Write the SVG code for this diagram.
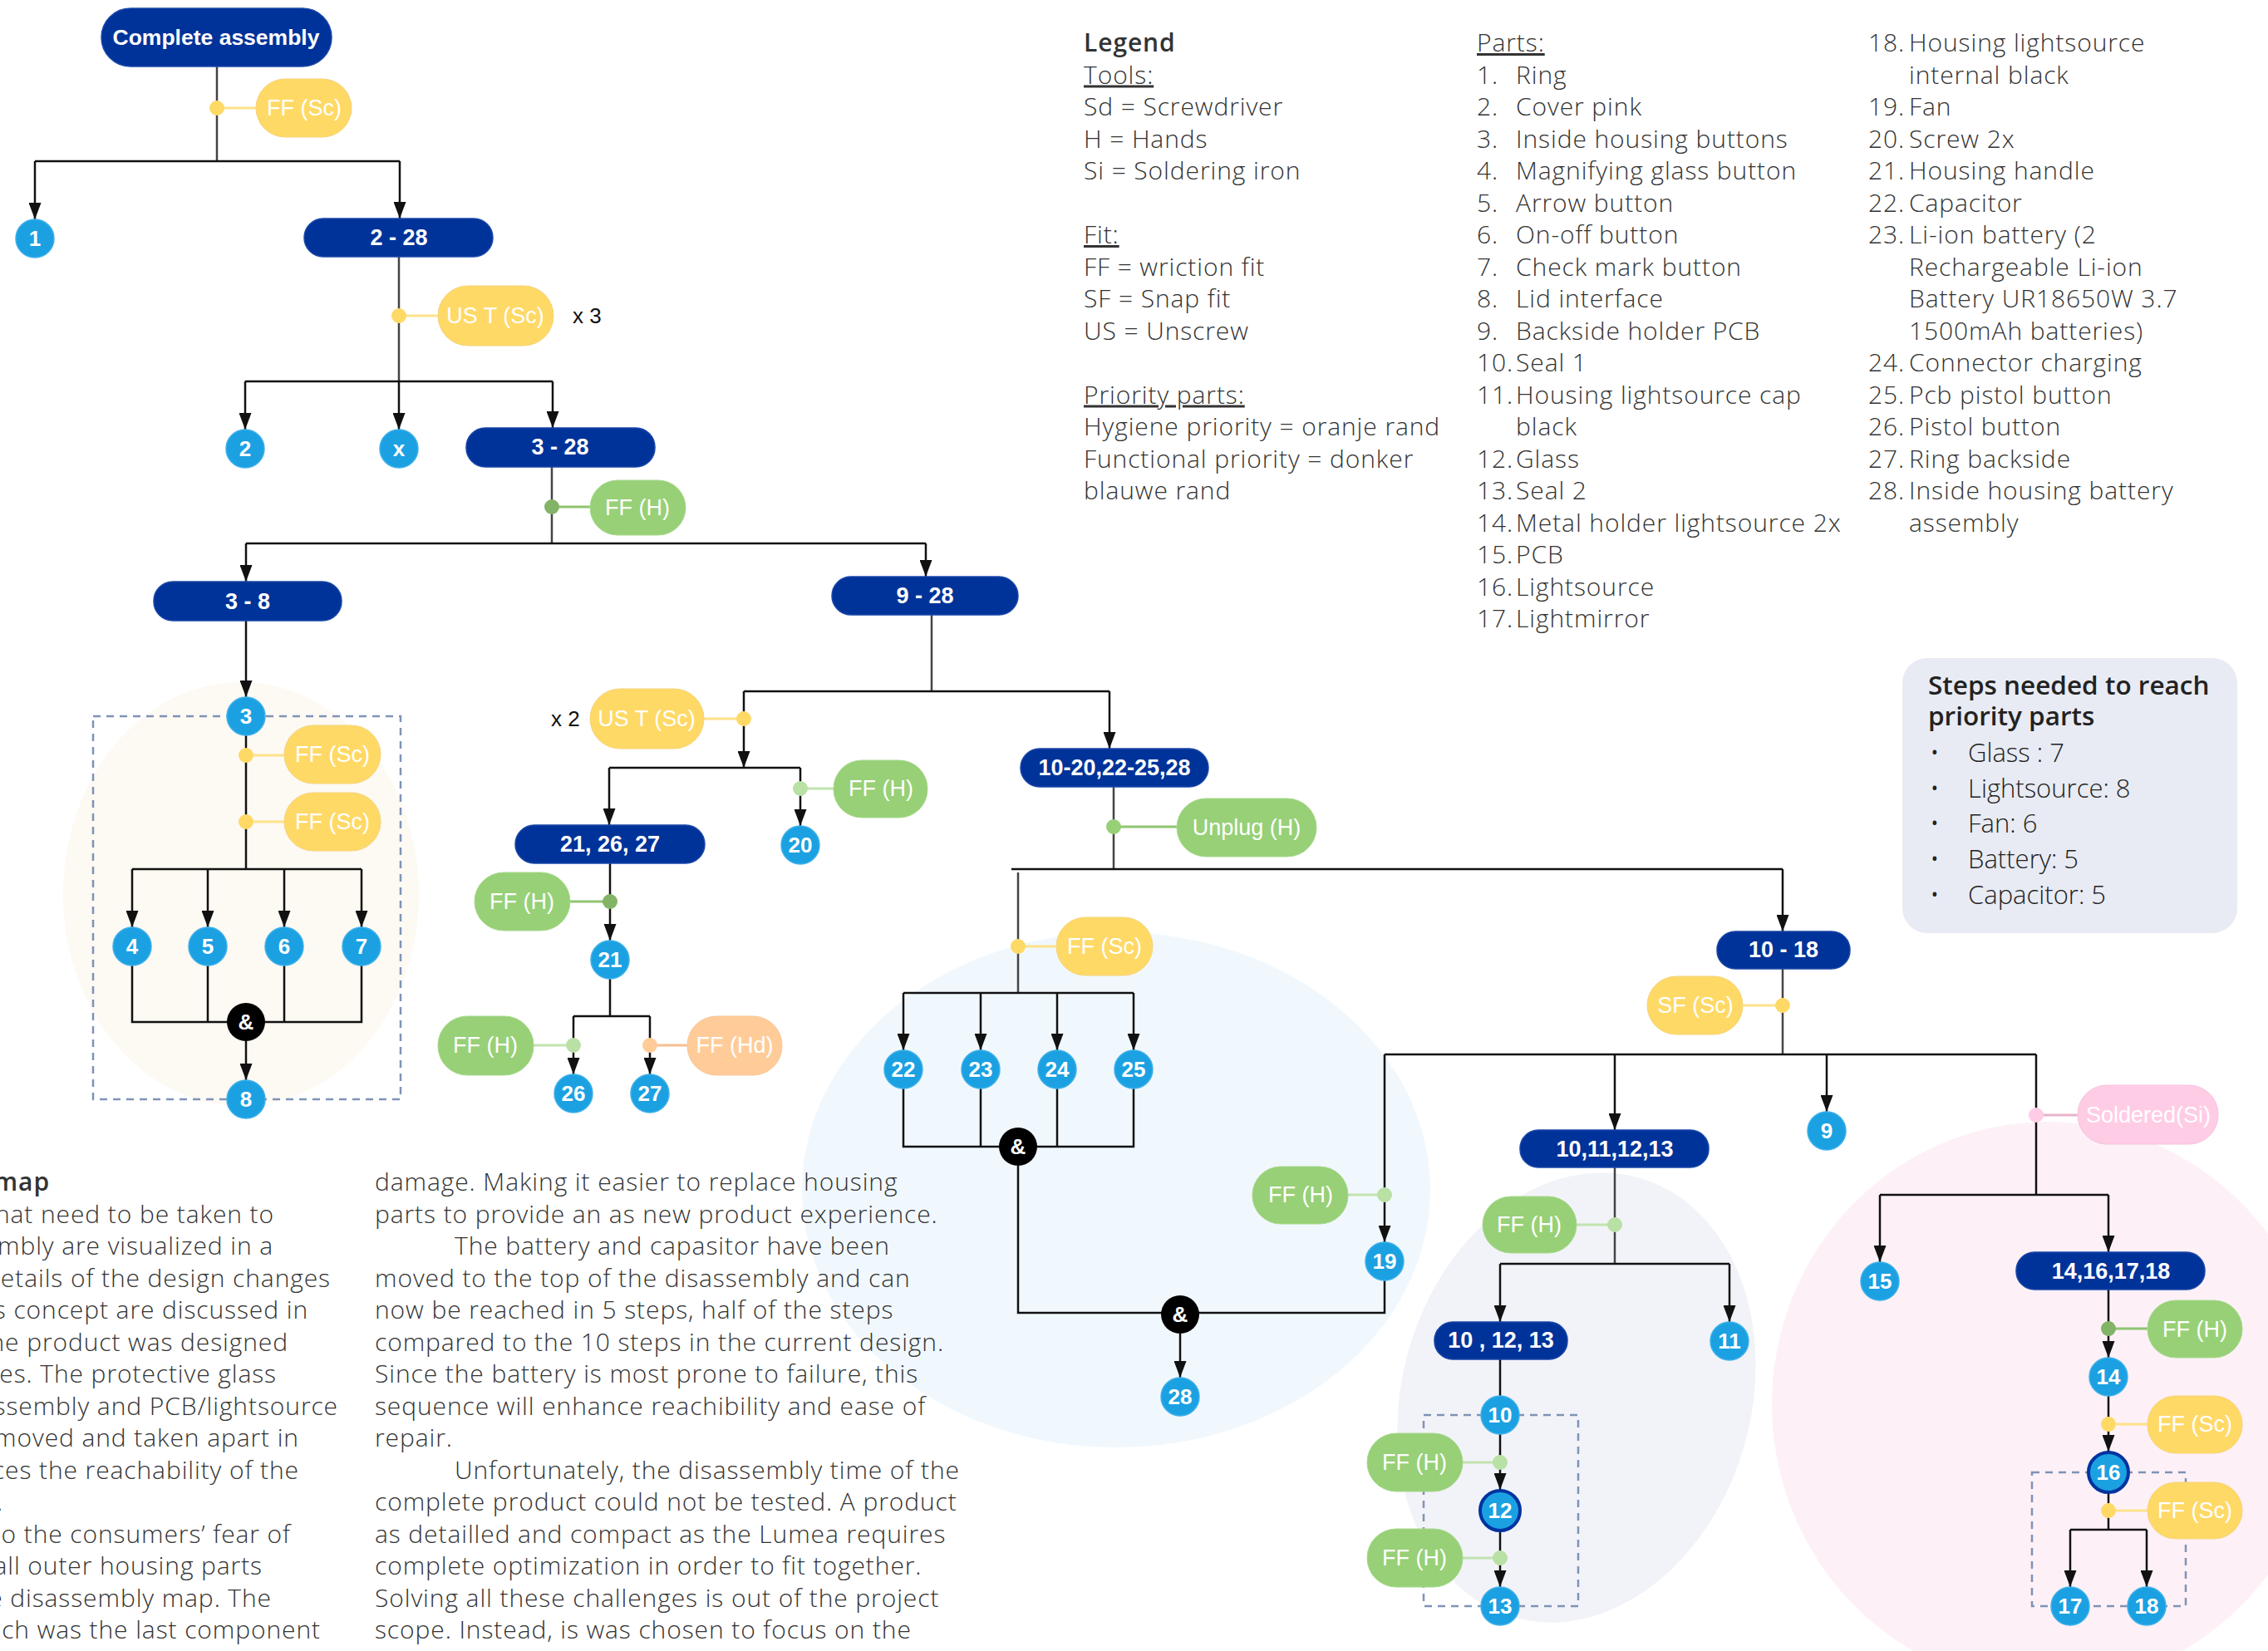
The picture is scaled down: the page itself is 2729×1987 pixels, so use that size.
<svg xmlns="http://www.w3.org/2000/svg" width="2729" height="1987" viewBox="0 0 2729 1987">
<defs>
<style>
.bg{stroke:none}
.box{fill:#003399;stroke:#1a47a8;stroke-width:1.5}
.btx{font-family:"Liberation Sans",Arial,sans-serif;font-weight:bold;font-size:27px;fill:#fff;text-anchor:middle;dominant-baseline:central}
.num{fill:#1ba1e2;stroke:#3db0ea;stroke-width:1.5}
.pri{fill:#1ba1e2;stroke:#0033a0;stroke-width:4}
.amp{fill:#000}
.ntx{font-family:"Liberation Sans",Arial,sans-serif;font-weight:bold;font-size:26px;fill:#fff;text-anchor:middle;dominant-baseline:central}
.ptx{font-family:"Liberation Sans",Arial,sans-serif;font-size:27px;fill:#fff;text-anchor:middle;dominant-baseline:central}
.yel{fill:#ffd966;stroke:#f5d37a;stroke-width:1}
.grn{fill:#97d077;stroke:#a8d88c;stroke-width:1}
.org{fill:#ffcc99;stroke:#f7c898;stroke-width:1}
.pnk{fill:#ffcce6;stroke:#f4c3dc;stroke-width:1}
.ln{fill:none;stroke:#111;stroke-width:2.5}
.tr{fill:none;stroke:#444;stroke-width:2.5}
.ar{fill:none;stroke:#111;stroke-width:2.5;marker-end:url(#ah)}
.dy{fill:#ffd966}
.dg{fill:#82b366}
.dl{fill:#b9e0a5}
.dm{fill:#97d077}
.do{fill:#ffcc99}
.dp{fill:#ffcce6}
.ly{stroke:#ffe28a;stroke-width:3}
.lg{stroke:#8fc46f;stroke-width:3}
.ll{stroke:#c2e3b0;stroke-width:3}
.lo{stroke:#f7bf8f;stroke-width:3}
.lp{stroke:#e8b3cc;stroke-width:3}
.dash{fill:none;stroke:#7f93b8;stroke-width:2.5;stroke-dasharray:9 7}
.t{font-family:"Open Sans","Noto Sans",sans-serif;font-weight:300;font-size:30px;letter-spacing:0.9px;fill:#333}
.u{text-decoration:underline}
.sb{font-family:"Open Sans","Noto Sans",sans-serif;font-weight:600;font-size:31.5px;fill:#222}
.st{font-family:"Open Sans","Noto Sans",sans-serif;font-weight:300;font-size:31px;fill:#222}
.xl{font-family:"Liberation Sans",Arial,sans-serif;font-size:26px;fill:#111;dominant-baseline:central}
</style>
<marker id="ah" markerUnits="userSpaceOnUse" markerWidth="20" markerHeight="15" refX="20" refY="7.5" orient="auto" viewBox="0 0 20 15">
<path d="M0,0 L20,7.5 L0,15 z" fill="#111"/>
</marker>
</defs>
<rect width="2729" height="1987" fill="#fff"/>

<g id="backgrounds">
<ellipse class="bg" cx="290" cy="1076" rx="214" ry="255" fill="#fdf9f3"/>
<ellipse class="bg" cx="1343" cy="1432" rx="378" ry="310" fill="#f1f8fd"/>
<ellipse class="bg" cx="1897" cy="1682" rx="210" ry="275" fill="#f2f3f8" transform="rotate(16 1897 1682)"/>
<ellipse class="bg" cx="2464" cy="1690" rx="332" ry="340" fill="#fdf1f7"/>
<rect class="bg" x="2289" y="792" width="403" height="331" rx="30" fill="#e8ebf3"/>
</g>

<g id="groups">
<rect class="dash" x="112" y="862" width="370" height="461"/>
<rect class="dash" x="1713" y="1703" width="186" height="230"/>
<rect class="dash" x="2445" y="1772" width="185" height="161"/>
</g>

<g id="connectors">
<path class="tr" d="M261,80 V194"/>
<path class="ln" d="M42,194 H481"/>
<path class="ar" d="M42,194 V264"/>
<path class="ar" d="M481,194 V263"/>
<path class="tr" d="M480,309 V459"/>
<path class="ln" d="M295,459 H665"/>
<path class="ar" d="M295,459 V517"/>
<path class="ar" d="M480,459 V517"/>
<path class="ar" d="M665,459 V515"/>
<path class="tr" d="M664,562 V654"/>
<path class="ln" d="M296,654 H1114"/>
<path class="ar" d="M296,654 V700"/>
<path class="ar" d="M1114,654 V694"/>
<path class="ar" d="M296,747 V839"/>
<path class="ln" d="M296,885 V1046"/>
<path class="ln" d="M159,1046 H435"/>
<path class="ar" d="M159,1046 V1116"/>
<path class="ar" d="M250,1046 V1116"/>
<path class="ar" d="M342,1046 V1116"/>
<path class="ar" d="M435,1046 V1116"/>
<path class="ln" d="M159,1162 V1230 H435 V1162 M250,1162 V1230 M342,1162 V1230"/>
<path class="ar" d="M296,1253 V1300"/>
<path class="tr" d="M1121,740 V832"/>
<path class="ln" d="M895,832 H1335"/>
<path class="ar" d="M895,832 V924"/>
<path class="ln" d="M733,924 H963"/>
<path class="ar" d="M733,924 V993"/>
<path class="ar" d="M963,924 V994"/>
<path class="ar" d="M734,1039 V1132"/>
<path class="ln" d="M734,1178 V1223"/>
<path class="ln" d="M690,1223 H782"/>
<path class="ar" d="M690,1223 V1293"/>
<path class="ar" d="M782,1223 V1293"/>
<path class="ar" d="M1335,832 V901"/>
<path class="tr" d="M1340,947 V1046"/>
<path class="ln" d="M1217,1046 H2145"/>
<path class="ar" d="M2145,1046 V1121"/>
<path class="tr" d="M1225,1050 V1195"/>
<path class="ln" d="M1087,1195 H1364"/>
<path class="ar" d="M1087,1195 V1264"/>
<path class="ar" d="M1180,1195 V1264"/>
<path class="ar" d="M1272,1195 V1264"/>
<path class="ar" d="M1364,1195 V1264"/>
<path class="ln" d="M1087,1310 V1380 H1364 V1310 M1180,1310 V1380 M1272,1310 V1380"/>
<path class="ln" d="M1225,1403 V1580 H1666 V1541"/>
<path class="ar" d="M1420,1605 V1658"/>
<path class="tr" d="M2145,1166 V1269"/>
<path class="ln" d="M1666,1269 H2450"/>
<path class="ar" d="M1666,1269 V1495"/>
<path class="ar" d="M1943,1269 V1360"/>
<path class="ar" d="M2198,1269 V1338"/>
<path class="ln" d="M2450,1269 V1438"/>
<path class="ln" d="M2262,1438 H2537"/>
<path class="ar" d="M2262,1438 V1519"/>
<path class="ar" d="M2537,1438 V1507"/>
<path class="tr" d="M1943,1405 V1521"/>
<path class="ln" d="M1805,1521 H2081"/>
<path class="ar" d="M1805,1521 V1591"/>
<path class="ar" d="M2081,1521 V1591"/>
<path class="ln" d="M1805,1636 V1680"/>
<path class="ar" d="M1805,1726 V1793"/>
<path class="ar" d="M1805,1843 V1910"/>
<path class="ar" d="M2537,1552 V1634"/>
<path class="ar" d="M2537,1680 V1747"/>
<path class="ln" d="M2537,1797 V1841"/>
<path class="ln" d="M2491,1841 H2583"/>
<path class="ar" d="M2491,1841 V1910"/>
<path class="ar" d="M2583,1841 V1910"/>
<!-- tool link lines -->
<path class="ly" d="M261,130 H308"/>
<path class="ly" d="M480,380 H527"/>
<path class="lg" d="M664,610 H710"/>
<path class="ly" d="M296,909 H342"/>
<path class="ly" d="M296,989 H342"/>
<path class="ly" d="M847,865 H895"/>
<path class="ll" d="M963,949 H1003"/>
<path class="lg" d="M686,1085 H734"/>
<path class="ll" d="M642,1258 H690"/>
<path class="lo" d="M782,1258 H827"/>
<path class="lg" d="M1340,995 H1416"/>
<path class="ly" d="M1225,1139 H1271"/>
<path class="ll" d="M1622,1438 H1666"/>
<path class="ly" d="M2097,1210 H2145"/>
<path class="lp" d="M2450,1342 H2500"/>
<path class="ll" d="M1897,1474 H1943"/>
<path class="ll" d="M1760,1760 H1805"/>
<path class="ll" d="M1760,1875 H1805"/>
<path class="lg" d="M2537,1599 H2584"/>
<path class="ly" d="M2537,1714 H2584"/>
<path class="ly" d="M2537,1818 H2584"/>
<!-- dots -->
<circle class="dy" cx="261" cy="130" r="9"/>
<circle class="dy" cx="480" cy="380" r="9"/>
<circle class="dg" cx="664" cy="610" r="9"/>
<circle class="dy" cx="296" cy="909" r="9"/>
<circle class="dy" cx="296" cy="989" r="9"/>
<circle class="dy" cx="895" cy="865" r="9"/>
<circle class="dl" cx="963" cy="949" r="9"/>
<circle class="dg" cx="734" cy="1085" r="9"/>
<circle class="dl" cx="690" cy="1258" r="9"/>
<circle class="do" cx="782" cy="1258" r="9"/>
<circle class="dm" cx="1340" cy="995" r="9"/>
<circle class="dy" cx="1225" cy="1139" r="9"/>
<circle class="dl" cx="1666" cy="1438" r="9"/>
<circle class="dy" cx="2145" cy="1210" r="9"/>
<circle class="dp" cx="2450" cy="1342" r="9"/>
<circle class="dl" cx="1943" cy="1474" r="9"/>
<circle class="dl" cx="1805" cy="1760" r="9"/>
<circle class="dl" cx="1805" cy="1875" r="9"/>
<circle class="dg" cx="2537" cy="1599" r="9"/>
<circle class="dy" cx="2537" cy="1714" r="9"/>
<circle class="dy" cx="2537" cy="1818" r="9"/>
</g>

<g id="assemblies">
<g id="n-complete"><rect class="box" x="122" y="10" width="277" height="70" rx="35"/><text class="btx" x="260" y="45" style="font-size:26.5px">Complete assembly</text></g>
<g id="n-2-28"><rect class="box" x="366" y="263" width="227" height="46" rx="23"/><text class="btx" x="480" y="286">2 - 28</text></g>
<g id="n-3-28"><rect class="box" x="561" y="515" width="227" height="47" rx="23"/><text class="btx" x="674" y="538">3 - 28</text></g>
<g id="n-3-8"><rect class="box" x="185" y="700" width="226" height="47" rx="23"/><text class="btx" x="298" y="724">3 - 8</text></g>
<g id="n-9-28"><rect class="box" x="1001" y="694" width="224" height="46" rx="23"/><text class="btx" x="1113" y="717">9 - 28</text></g>
<g id="n-21-26-27"><rect class="box" x="620" y="993" width="228" height="46" rx="23"/><text class="btx" x="734" y="1016">21, 26, 27</text></g>
<g id="n-10-20"><rect class="box" x="1228" y="901" width="226" height="46" rx="23"/><text class="btx" x="1341" y="924">10-20,22-25,28</text></g>
<g id="n-10-18"><rect class="box" x="2066" y="1121" width="160" height="45" rx="22"/><text class="btx" x="2146" y="1143">10 - 18</text></g>
<g id="n-10-13"><rect class="box" x="1829" y="1360" width="227" height="45" rx="22"/><text class="btx" x="1943" y="1383">10,11,12,13</text></g>
<g id="n-10-12-13"><rect class="box" x="1726" y="1591" width="160" height="45" rx="22"/><text class="btx" x="1806" y="1613">10 , 12, 13</text></g>
<g id="n-14-18"><rect class="box" x="2426" y="1507" width="227" height="45" rx="22"/><text class="btx" x="2540" y="1530">14,16,17,18</text></g>
</g>

<g id="parts">
<g id="p1"><circle class="num" cx="42" cy="287" r="23"/><text class="ntx" x="42" y="287">1</text></g>
<g id="p2"><circle class="num" cx="295" cy="540" r="23"/><text class="ntx" x="295" y="540">2</text></g>
<g id="px"><circle class="num" cx="480" cy="540" r="23"/><text class="ntx" x="480" y="540">x</text></g>
<g id="p3"><circle class="num" cx="296" cy="862" r="23"/><text class="ntx" x="296" y="862">3</text></g>
<g id="p4"><circle class="num" cx="159" cy="1139" r="23"/><text class="ntx" x="159" y="1139">4</text></g>
<g id="p5"><circle class="num" cx="250" cy="1139" r="23"/><text class="ntx" x="250" y="1139">5</text></g>
<g id="p6"><circle class="num" cx="342" cy="1139" r="23"/><text class="ntx" x="342" y="1139">6</text></g>
<g id="p7"><circle class="num" cx="435" cy="1139" r="23"/><text class="ntx" x="435" y="1139">7</text></g>
<g id="and1"><circle class="amp" cx="296" cy="1230" r="23"/><text class="ntx" x="296" y="1230">&amp;</text></g>
<g id="p8"><circle class="num" cx="296" cy="1323" r="23"/><text class="ntx" x="296" y="1323">8</text></g>
<g id="p20"><circle class="num" cx="963" cy="1017" r="23"/><text class="ntx" x="963" y="1017">20</text></g>
<g id="p21"><circle class="num" cx="734" cy="1155" r="23"/><text class="ntx" x="734" y="1155">21</text></g>
<g id="p26"><circle class="num" cx="690" cy="1316" r="23"/><text class="ntx" x="690" y="1316">26</text></g>
<g id="p27"><circle class="num" cx="782" cy="1316" r="23"/><text class="ntx" x="782" y="1316">27</text></g>
<g id="p22"><circle class="num" cx="1087" cy="1287" r="23"/><text class="ntx" x="1087" y="1287">22</text></g>
<g id="p23"><circle class="num" cx="1180" cy="1287" r="23"/><text class="ntx" x="1180" y="1287">23</text></g>
<g id="p24"><circle class="num" cx="1272" cy="1287" r="23"/><text class="ntx" x="1272" y="1287">24</text></g>
<g id="p25"><circle class="num" cx="1364" cy="1287" r="23"/><text class="ntx" x="1364" y="1287">25</text></g>
<g id="and2"><circle class="amp" cx="1225" cy="1380" r="23"/><text class="ntx" x="1225" y="1380">&amp;</text></g>
<g id="p19"><circle class="num" cx="1666" cy="1518" r="23"/><text class="ntx" x="1666" y="1518">19</text></g>
<g id="and3"><circle class="amp" cx="1420" cy="1582" r="23"/><text class="ntx" x="1420" y="1582">&amp;</text></g>
<g id="p28"><circle class="num" cx="1420" cy="1681" r="23"/><text class="ntx" x="1420" y="1681">28</text></g>
<g id="p9"><circle class="num" cx="2198" cy="1361" r="23"/><text class="ntx" x="2198" y="1361">9</text></g>
<g id="p11"><circle class="num" cx="2081" cy="1614" r="23"/><text class="ntx" x="2081" y="1614">11</text></g>
<g id="p10"><circle class="num" cx="1805" cy="1703" r="23"/><text class="ntx" x="1805" y="1703">10</text></g>
<g id="p12"><circle class="pri" cx="1805" cy="1818" r="24"/><text class="ntx" x="1805" y="1818">12</text></g>
<g id="p13"><circle class="num" cx="1805" cy="1933" r="23"/><text class="ntx" x="1805" y="1933">13</text></g>
<g id="p15"><circle class="num" cx="2262" cy="1542" r="23"/><text class="ntx" x="2262" y="1542">15</text></g>
<g id="p14"><circle class="num" cx="2537" cy="1657" r="23"/><text class="ntx" x="2537" y="1657">14</text></g>
<g id="p16"><circle class="pri" cx="2537" cy="1772" r="24"/><text class="ntx" x="2537" y="1772">16</text></g>
<g id="p17"><circle class="num" cx="2491" cy="1933" r="23"/><text class="ntx" x="2491" y="1933">17</text></g>
<g id="p18"><circle class="num" cx="2583" cy="1933" r="23"/><text class="ntx" x="2583" y="1933">18</text></g>
</g>

<g id="tools">
<g id="t1"><rect class="yel" x="308" y="95" width="115" height="70" rx="35"/><text class="ptx" x="366" y="130">FF (Sc)</text></g>
<g id="t2"><rect class="yel" x="527" y="344" width="139" height="72" rx="36"/><text class="ptx" x="596" y="380">US T (Sc)</text><text class="xl" x="689" y="380">x 3</text></g>
<g id="t3"><rect class="grn" x="710" y="578" width="115" height="66" rx="33"/><text class="ptx" x="767" y="611">FF (H)</text></g>
<g id="t4"><rect class="yel" x="342" y="873" width="116" height="70" rx="35"/><text class="ptx" x="400" y="908">FF (Sc)</text></g>
<g id="t5"><rect class="yel" x="342" y="954" width="116" height="70" rx="35"/><text class="ptx" x="400" y="989">FF (Sc)</text></g>
<g id="t6"><rect class="yel" x="710" y="829" width="137" height="72" rx="36"/><text class="ptx" x="778" y="865">US T (Sc)</text><text class="xl" x="663" y="865">x 2</text></g>
<g id="t7"><rect class="grn" x="1003" y="915" width="113" height="69" rx="34"/><text class="ptx" x="1060" y="949">FF (H)</text></g>
<g id="t8"><rect class="grn" x="571" y="1050" width="115" height="70" rx="35"/><text class="ptx" x="628" y="1085">FF (H)</text></g>
<g id="t9"><rect class="grn" x="527" y="1223" width="115" height="71" rx="35"/><text class="ptx" x="584" y="1258">FF (H)</text></g>
<g id="t10"><rect class="org" x="827" y="1223" width="114" height="71" rx="35"/><text class="ptx" x="884" y="1258">FF (Hd)</text></g>
<g id="t11"><rect class="grn" x="1416" y="961" width="168" height="70" rx="35"/><text class="ptx" x="1500" y="996">Unplug (H)</text></g>
<g id="t12"><rect class="yel" x="1271" y="1104" width="116" height="70" rx="35"/><text class="ptx" x="1329" y="1139">FF (Sc)</text></g>
<g id="t13"><rect class="grn" x="1507" y="1404" width="115" height="69" rx="34"/><text class="ptx" x="1565" y="1438">FF (H)</text></g>
<g id="t14"><rect class="yel" x="1982" y="1175" width="115" height="70" rx="35"/><text class="ptx" x="2040" y="1210">SF (Sc)</text></g>
<g id="t15"><rect class="pnk" x="2500" y="1306" width="169" height="71" rx="35"/><text class="ptx" x="2585" y="1342">Soldered(Si)</text></g>
<g id="t16"><rect class="grn" x="1784" y="1440" width="113" height="68" rx="34"/><text class="ptx" x="1840" y="1474">FF (H)</text></g>
<g id="t17"><rect class="grn" x="1645" y="1725" width="115" height="70" rx="35"/><text class="ptx" x="1702" y="1760">FF (H)</text></g>
<g id="t18"><rect class="grn" x="1645" y="1840" width="115" height="70" rx="35"/><text class="ptx" x="1702" y="1875">FF (H)</text></g>
<g id="t19"><rect class="grn" x="2584" y="1565" width="114" height="69" rx="34"/><text class="ptx" x="2641" y="1600">FF (H)</text></g>
<g id="t20"><rect class="yel" x="2584" y="1680" width="114" height="69" rx="34"/><text class="ptx" x="2641" y="1714">FF (Sc)</text></g>
<g id="t21"><rect class="yel" x="2584" y="1784" width="114" height="68" rx="34"/><text class="ptx" x="2641" y="1818">FF (Sc)</text></g>
</g>

<g id="legend">
<text class="t" x="1304" y="62" style="font-weight:600">Legend</text>
<text class="t u" x="1304" y="100.5">Tools:</text>
<text class="t" x="1304" y="139">Sd = Screwdriver</text>
<text class="t" x="1304" y="177.5">H = Hands</text>
<text class="t" x="1304" y="216">Si = Soldering iron</text>
<text class="t u" x="1304" y="293">Fit:</text>
<text class="t" x="1304" y="331.5">FF = wriction fit</text>
<text class="t" x="1304" y="370">SF = Snap fit</text>
<text class="t" x="1304" y="408.5">US = Unscrew</text>
<text class="t u" x="1304" y="485.5">Priority parts:</text>
<text class="t" x="1304" y="524">Hygiene priority = oranje rand</text>
<text class="t" x="1304" y="562.5">Functional priority = donker</text>
<text class="t" x="1304" y="601">blauwe rand</text>
</g>

<g id="parts-list">
<text class="t u" x="1777" y="62">Parts:</text>
<text class="t" x="1777" y="100.5">1.</text><text class="t" x="1824" y="100.5">Ring</text>
<text class="t" x="1777" y="139">2.</text><text class="t" x="1824" y="139">Cover pink</text>
<text class="t" x="1777" y="177.5">3.</text><text class="t" x="1824" y="177.5">Inside housing buttons</text>
<text class="t" x="1777" y="216">4.</text><text class="t" x="1824" y="216">Magnifying glass button</text>
<text class="t" x="1777" y="254.5">5.</text><text class="t" x="1824" y="254.5">Arrow button</text>
<text class="t" x="1777" y="293">6.</text><text class="t" x="1824" y="293">On-off button</text>
<text class="t" x="1777" y="331.5">7.</text><text class="t" x="1824" y="331.5">Check mark button</text>
<text class="t" x="1777" y="370">8.</text><text class="t" x="1824" y="370">Lid interface</text>
<text class="t" x="1777" y="408.5">9.</text><text class="t" x="1824" y="408.5">Backside holder PCB</text>
<text class="t" x="1777" y="447">10.</text><text class="t" x="1824" y="447">Seal 1</text>
<text class="t" x="1777" y="485.5">11.</text><text class="t" x="1824" y="485.5">Housing lightsource cap</text>
<text class="t" x="1824" y="524">black</text>
<text class="t" x="1777" y="562.5">12.</text><text class="t" x="1824" y="562.5">Glass</text>
<text class="t" x="1777" y="601">13.</text><text class="t" x="1824" y="601">Seal 2</text>
<text class="t" x="1777" y="639.5">14.</text><text class="t" x="1824" y="639.5">Metal holder lightsource 2x</text>
<text class="t" x="1777" y="678">15.</text><text class="t" x="1824" y="678">PCB</text>
<text class="t" x="1777" y="716.5">16.</text><text class="t" x="1824" y="716.5">Lightsource</text>
<text class="t" x="1777" y="755">17.</text><text class="t" x="1824" y="755">Lightmirror</text>
<text class="t" x="2248" y="62">18.</text><text class="t" x="2297" y="62">Housing lightsource</text>
<text class="t" x="2297" y="100.5">internal black</text>
<text class="t" x="2248" y="139">19.</text><text class="t" x="2297" y="139">Fan</text>
<text class="t" x="2248" y="177.5">20.</text><text class="t" x="2297" y="177.5">Screw 2x</text>
<text class="t" x="2248" y="216">21.</text><text class="t" x="2297" y="216">Housing handle</text>
<text class="t" x="2248" y="254.5">22.</text><text class="t" x="2297" y="254.5">Capacitor</text>
<text class="t" x="2248" y="293">23.</text><text class="t" x="2297" y="293">Li-ion battery (2</text>
<text class="t" x="2297" y="331.5">Rechargeable Li-ion</text>
<text class="t" x="2297" y="370">Battery UR18650W 3.7</text>
<text class="t" x="2297" y="408.5">1500mAh batteries)</text>
<text class="t" x="2248" y="447">24.</text><text class="t" x="2297" y="447">Connector charging</text>
<text class="t" x="2248" y="485.5">25.</text><text class="t" x="2297" y="485.5">Pcb pistol button</text>
<text class="t" x="2248" y="524">26.</text><text class="t" x="2297" y="524">Pistol button</text>
<text class="t" x="2248" y="562.5">27.</text><text class="t" x="2297" y="562.5">Ring backside</text>
<text class="t" x="2248" y="601">28.</text><text class="t" x="2297" y="601">Inside housing battery</text>
<text class="t" x="2297" y="639.5">assembly</text>
</g>

<g id="steps">
<text class="sb" x="2320" y="836">Steps needed to reach</text>
<text class="sb" x="2320" y="873">priority parts</text>
<text class="st" x="2322" y="917">•</text><text class="st" x="2368" y="917">Glass : 7</text>
<text class="st" x="2322" y="960">•</text><text class="st" x="2368" y="960">Lightsource: 8</text>
<text class="st" x="2322" y="1002">•</text><text class="st" x="2368" y="1002">Fan: 6</text>
<text class="st" x="2322" y="1045">•</text><text class="st" x="2368" y="1045">Battery: 5</text>
<text class="st" x="2322" y="1088">•</text><text class="st" x="2368" y="1088">Capacitor: 5</text>
</g>

<g id="body-text">
<text class="t" x="60" y="1433" text-anchor="end" style="font-weight:600">map</text>
<text class="t" x="330" y="1472" text-anchor="end">hat need to be taken to</text>
<text class="t" x="329" y="1510" text-anchor="end">mbly are visualized in a</text>
<text class="t" x="398" y="1549" text-anchor="end">etails of the design changes</text>
<text class="t" x="371" y="1587" text-anchor="end">s concept are discussed in</text>
<text class="t" x="347" y="1626" text-anchor="end">he product was designed</text>
<text class="t" x="333" y="1664" text-anchor="end">es. The protective glass</text>
<text class="t" x="407" y="1703" text-anchor="end">ssembly and PCB/lightsource</text>
<text class="t" x="360" y="1741" text-anchor="end">moved and taken apart in</text>
<text class="t" x="360" y="1780" text-anchor="end">ces the reachability of the</text>
<text class="t" x="4" y="1818" text-anchor="end">.</text>
<text class="t" x="350" y="1857" text-anchor="end">o the consumers’ fear of</text>
<text class="t" x="316" y="1895" text-anchor="end">all outer housing parts</text>
<text class="t" x="327" y="1934" text-anchor="end">e disassembly map. The</text>
<text class="t" x="386" y="1972" text-anchor="end">ch was the last component</text>
<text class="t" x="451" y="1433">damage. Making it easier to replace housing</text>
<text class="t" x="451" y="1472">parts to provide an as new product experience.</text>
<text class="t" x="547" y="1510">The battery and capasitor have been</text>
<text class="t" x="451" y="1549">moved to the top of the disassembly and can</text>
<text class="t" x="451" y="1587">now be reached in 5 steps, half of the steps</text>
<text class="t" x="451" y="1626">compared to the 10 steps in the current design.</text>
<text class="t" x="451" y="1664">Since the battery is most prone to failure, this</text>
<text class="t" x="451" y="1703">sequence will enhance reachibility and ease of</text>
<text class="t" x="451" y="1741">repair.</text>
<text class="t" x="547" y="1780">Unfortunately, the disassembly time of the</text>
<text class="t" x="451" y="1818">complete product could not be tested. A product</text>
<text class="t" x="451" y="1857">as detailled and compact as the Lumea requires</text>
<text class="t" x="451" y="1895">complete optimization in order to fit together.</text>
<text class="t" x="451" y="1934">Solving all these challenges is out of the project</text>
<text class="t" x="451" y="1972">scope. Instead, is was chosen to focus on the</text>
</g>
</svg>
